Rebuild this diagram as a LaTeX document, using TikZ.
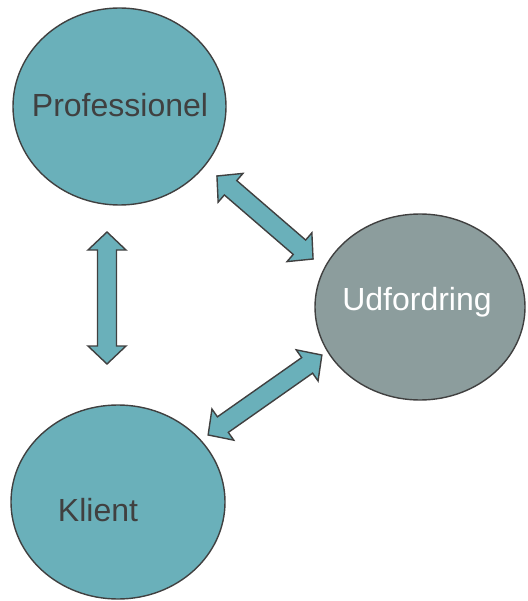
\documentclass[tikz,border=0pt]{standalone}
\usepackage{fontspec}
\setmainfont{Liberation Sans}
\usetikzlibrary{shapes.geometric}

\definecolor{tealfill}{RGB}{106,176,186}
\definecolor{greyfill}{RGB}{140,157,157}
\definecolor{edge}{RGB}{64,64,64}

% double-headed block arrow of the given length, centred on the scope origin
\newcommand{\twowayarrow}[1]{%
  \draw[arrowbody] (-#1/2,0) -- (-#1/2+18,19) -- (-#1/2+18,9.5) -- (#1/2-18,9.5)
    -- (#1/2-18,19) -- (#1/2,0) -- (#1/2-18,-19) -- (#1/2-18,-9.5)
    -- (-#1/2+18,-9.5) -- (-#1/2+18,-19) -- cycle;}

\begin{document}
\begin{tikzpicture}[x=1pt,y=-1pt,
  bubble/.style={ellipse, draw=edge, line width=1.4pt, inner sep=0pt},
  label text/.style={font=\fontsize{32}{37}\selectfont, text=edge},
  arrowbody/.style={draw=edge, line width=1.4pt, fill=tealfill, line join=miter}]
\useasboundingbox (0,0) rectangle (527,601);

% the three parties
\node[bubble, fill=tealfill, minimum width=213pt, minimum height=197pt] (prof) at (119.5,106.5) {};
\node[bubble, fill=greyfill, minimum width=210pt, minimum height=186pt] (udf) at (420,307) {};
\node[bubble, fill=tealfill, minimum width=214pt, minimum height=194pt] (klient) at (118,502) {};

\node[label text] (proftext) at (120,105) {Professionel};
\node[label text, text=white] (udftext) at (417,302) {Udfordring};
\node[label text] (klienttext) at (98,510) {Klient};

% two-way relations between them
\coordinate (pk) at (107,298);
\coordinate (pu) at (265,217.5);
\coordinate (ku) at (265,395);
\begin{scope}[shift={(pk)}, rotate=90]\twowayarrow{132}\end{scope}
\begin{scope}[shift={(pu)}, rotate=-40.8]\twowayarrow{127}\end{scope}
\begin{scope}[shift={(ku)}, rotate=35.1]\twowayarrow{139}\end{scope}
\end{tikzpicture}
\end{document}
